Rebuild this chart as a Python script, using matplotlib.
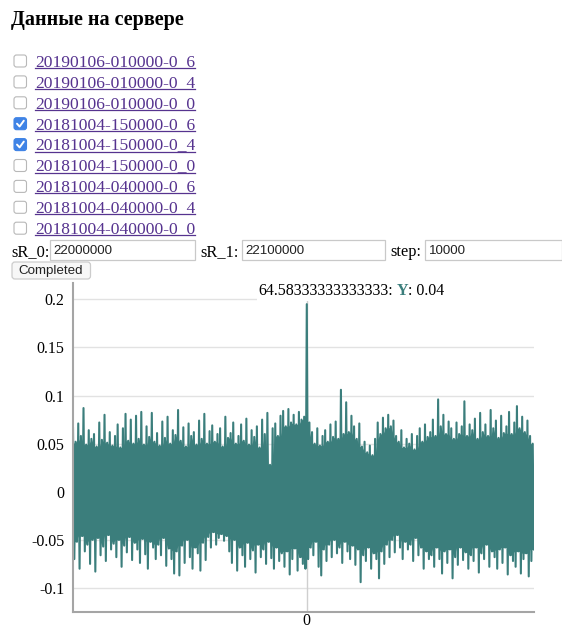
import numpy as np
import matplotlib.pyplot as plt
from matplotlib.patches import FancyBboxPatch, Rectangle

W, H = 562, 630
TEAL = '#3b7e7c'
LINK = '#56338f'
SERIF = 'Liberation Serif'
SANS = 'Liberation Sans'

# page content
title = "Данные на сервере"
files = ["20190106-010000-0_6", "20190106-010000-0_4", "20190106-010000-0_0",
         "20181004-150000-0_6", "20181004-150000-0_4", "20181004-150000-0_0",
         "20181004-040000-0_6", "20181004-040000-0_4", "20181004-040000-0_0"]
checked = [False, False, False, True, True, False, False, False, False]
field_labels = ["sR_0:", "sR_1:", "step:"]
field_values = ["22000000", "22100000", "10000"]
button_label = "Completed"
tip_x = "64.58333333333333"
tip_y = "0.04"

# signal peaks / troughs, left to right
sig_hi = [
    0.066, 0.052, 0.071, 0.058, 0.087, 0.049, 0.064, 0.055,
    0.060, 0.047, 0.072, 0.054, 0.080, 0.051, 0.062, 0.048,
    0.058, 0.070, 0.046, 0.066, 0.081, 0.053, 0.075, 0.050,
    0.079, 0.055, 0.083, 0.049, 0.068, 0.057, 0.082, 0.052,
    0.061, 0.048, 0.073, 0.056, 0.078, 0.050, 0.064, 0.059,
    0.085, 0.053, 0.067, 0.047, 0.071, 0.058, 0.062, 0.049,
    0.074, 0.055, 0.081, 0.050, 0.063, 0.069, 0.052, 0.060,
    0.066, 0.047, 0.078, 0.056, 0.061, 0.072, 0.050, 0.058,
    0.070, 0.053, 0.076, 0.049, 0.064, 0.057, 0.068, 0.046,
    0.075, 0.060, 0.082, 0.028, 0.066, 0.071, 0.058, 0.079,
    0.084, 0.068, 0.086, 0.072, 0.080, 0.070, 0.083, 0.075,
    0.078, 0.195, 0.072, 0.062, 0.050, 0.066, 0.048, 0.058,
    0.064, 0.052, 0.070, 0.057, 0.073, 0.055, 0.106, 0.060,
    0.093, 0.062, 0.079, 0.068, 0.055, 0.071, 0.047, 0.052,
    0.041, 0.048, 0.038, 0.055, 0.072, 0.060, 0.077, 0.066,
    0.080, 0.068, 0.074, 0.058, 0.052, 0.064, 0.046, 0.055,
    0.050, 0.060, 0.044, 0.058, 0.066, 0.052, 0.070, 0.057,
    0.062, 0.075, 0.058, 0.096, 0.068, 0.080, 0.060, 0.073,
    0.066, 0.055, 0.072, 0.060, 0.068, 0.094, 0.058, 0.070,
    0.064, 0.076, 0.055, 0.082, 0.062, 0.070, 0.058, 0.085,
    0.066, 0.074, 0.056, 0.079, 0.061, 0.068, 0.083, 0.060,
    0.072, 0.089, 0.066, 0.078, 0.062, 0.074, 0.058, 0.050,
]
sig_lo = [
    -0.070, -0.052, -0.080, -0.046, -0.062, -0.055, -0.075, -0.050,
    -0.083, -0.048, -0.066, -0.057, -0.072, -0.045, -0.060, -0.054,
    -0.068, -0.050, -0.078, -0.056, -0.063, -0.047, -0.071, -0.053,
    -0.060, -0.074, -0.049, -0.065, -0.080, -0.052, -0.058, -0.070,
    -0.055, -0.066, -0.048, -0.077, -0.059, -0.070, -0.085, -0.062,
    -0.087, -0.056, -0.074, -0.050, -0.068, -0.080, -0.058, -0.064,
    -0.082, -0.053, -0.071, -0.047, -0.058, -0.042, -0.055, -0.048,
    -0.044, -0.051, -0.046, -0.062, -0.074, -0.050, -0.082, -0.058,
    -0.066, -0.078, -0.053, -0.070, -0.061, -0.084, -0.055, -0.068,
    -0.060, -0.075, -0.052, -0.069, -0.080, -0.058, -0.072, -0.064,
    -0.078, -0.062, -0.086, -0.070, -0.059, -0.082, -0.068, -0.075,
    -0.080, -0.070, -0.058, -0.066, -0.052, -0.078, -0.087, -0.060,
    -0.072, -0.055, -0.068, -0.050, -0.064, -0.058, -0.074, -0.052,
    -0.062, -0.070, -0.056, -0.076, -0.060, -0.094, -0.066, -0.072,
    -0.058, -0.080, -0.064, -0.070, -0.090, -0.062, -0.075, -0.055,
    -0.068, -0.050, -0.063, -0.045, -0.058, -0.070, -0.052, -0.060,
    -0.055, -0.072, -0.048, -0.066, -0.058, -0.080, -0.062, -0.070,
    -0.066, -0.078, -0.058, -0.070, -0.085, -0.062, -0.074, -0.060,
    -0.090, -0.068, -0.076, -0.058, -0.071, -0.063, -0.080, -0.066,
    -0.072, -0.058, -0.084, -0.064, -0.070, -0.055, -0.078, -0.062,
    -0.068, -0.080, -0.060, -0.074, -0.058, -0.086, -0.066, -0.072,
    -0.078, -0.062, -0.085, -0.070, -0.064, -0.088, -0.072, -0.060,
]
y_ticks = [-0.1, -0.05, 0, 0.05, 0.1, 0.15, 0.2]
y_tick_labels = ["-0.1", "-0.05", "0", "0.05", "0.1", "0.15", "0.2"]


def px_width(t, renderer):
    bb = t.get_window_extent(renderer)
    return bb.width


fig = plt.figure(figsize=(W / 100, H / 100), dpi=100)
fig.patch.set_facecolor('white')

# page overlay in pixel coordinates
page = fig.add_axes([0, 0, 1, 1])
page.set_xlim(0, W)
page.set_ylim(H, 0)
page.axis('off')
renderer = fig.canvas.get_renderer()

page.text(11, 25.5, title, fontsize=14.5, fontweight='bold', family=SERIF, color='black')

row0, row_step = 66, 20.9
for i, (name, on) in enumerate(zip(files, checked)):
    base = row0 + i * row_step
    cy = base - 5
    if on:
        box = FancyBboxPatch((14, cy - 6), 12.5, 12, boxstyle='round,pad=0,rounding_size=2.5',
                             fc='#3f83e6', ec='#3f83e6', lw=0.8)
        page.add_patch(box)
        page.plot([17, 19.6, 23.8], [cy, cy + 2.8, cy - 3], color='white', lw=1.4,
                  solid_capstyle='round', solid_joinstyle='round')
    else:
        box = FancyBboxPatch((14, cy - 6), 12.5, 12, boxstyle='round,pad=0,rounding_size=2.5',
                             fc='white', ec='#b8b8b8', lw=0.8)
        page.add_patch(box)
    t = page.text(35, base, name, fontsize=12.6, family=SERIF, color=LINK)
    w = px_width(t, renderer)
    page.plot([35, 35 + w], [base + 2, base + 2], color=LINK, lw=0.9)

# input fields
label_x = [11, 200, 390]
box_x = [[50, 195], [242, 385], [425, 562]]
for lab, val, lx, (x0, x1) in zip(field_labels, field_values, label_x, box_x):
    page.text(lx, 256, lab, fontsize=11.8, family=SERIF, color='black')
    page.add_patch(Rectangle((x0, 240), x1 - x0, 19.5, fc='white', ec='#c9c9c9', lw=0.9))
    page.text(x0 + 3.5, 254.5, val, fontsize=9.6, family=SANS, color='#222222')

# button
page.add_patch(FancyBboxPatch((12, 262), 78.5, 17, boxstyle='round,pad=0,rounding_size=3',
                              fc='#f7f7f7', ec='#cccccc', lw=0.9))
page.text(51, 271, button_label, fontsize=9.6, family=SANS, color='#222222',
          ha='center', va='center')

# chart
ax = fig.add_axes([73 / W, (H - 612) / H, 461 / W, (612 - 283) / H])
sig = np.ravel(np.column_stack([sig_hi, sig_lo]))
xs = np.arange(len(sig)) - int(np.argmax(sig))

# solid core of the band: lowest nearby peak / highest nearby trough
hi_arr = np.array(sig_hi)
lo_arr = np.array(sig_lo)
core_hi = np.minimum(np.minimum(hi_arr, np.roll(hi_arr, 1)), np.roll(hi_arr, -1))
core_lo = np.maximum(np.maximum(lo_arr, np.roll(lo_arr, 1)), np.roll(lo_arr, -1))
ax.fill_between(xs[::2], core_lo, core_hi, color=TEAL, lw=0, zorder=2)

ax.axvline(0, color='#cfcfcf', lw=1, zorder=1)
ax.plot(xs, sig, color=TEAL, lw=1.5, zorder=2)
ax.set_xlim(xs.min(), xs.max())
ax.set_ylim(-0.125, 0.217)
ax.set_yticks(y_ticks)
ax.set_yticklabels(y_tick_labels, family=SERIF, fontsize=11.5)
ax.set_xticks([0])
ax.set_xticklabels(["0"], family=SERIF, fontsize=11.5)
ax.tick_params(axis='y', length=0, pad=6)
ax.tick_params(axis='x', length=0, pad=1)
ax.grid(axis='y', color='#e2e2e2', lw=1)
ax.set_axisbelow(True)
for s in ['top', 'right']:
    ax.spines[s].set_visible(False)
for s in ['left', 'bottom']:
    ax.spines[s].set_color('#a5a5a5')
    ax.spines[s].set_linewidth(1.5)

# tooltip over the top of the chart
ax.add_patch(Rectangle((257, 282), 280, 19, transform=page.transData, fc='white', ec='none',
                       clip_on=False, zorder=5))
tx = 258
t1 = page.text(tx, 295, tip_x + ":", fontsize=11.5, family=SERIF, color='black', zorder=6)
tx += px_width(t1, renderer) + 4
t2 = page.text(tx, 295, "Y", fontsize=11.5, family=SERIF, color=TEAL, fontweight='bold', zorder=6)
tx += px_width(t2, renderer)
page.text(tx, 295, ": " + tip_y, fontsize=11.5, family=SERIF, color='black', zorder=6)
page.set_zorder(3)
page.patch.set_visible(False)

fig.savefig('out.png', dpi=100, facecolor='white')
